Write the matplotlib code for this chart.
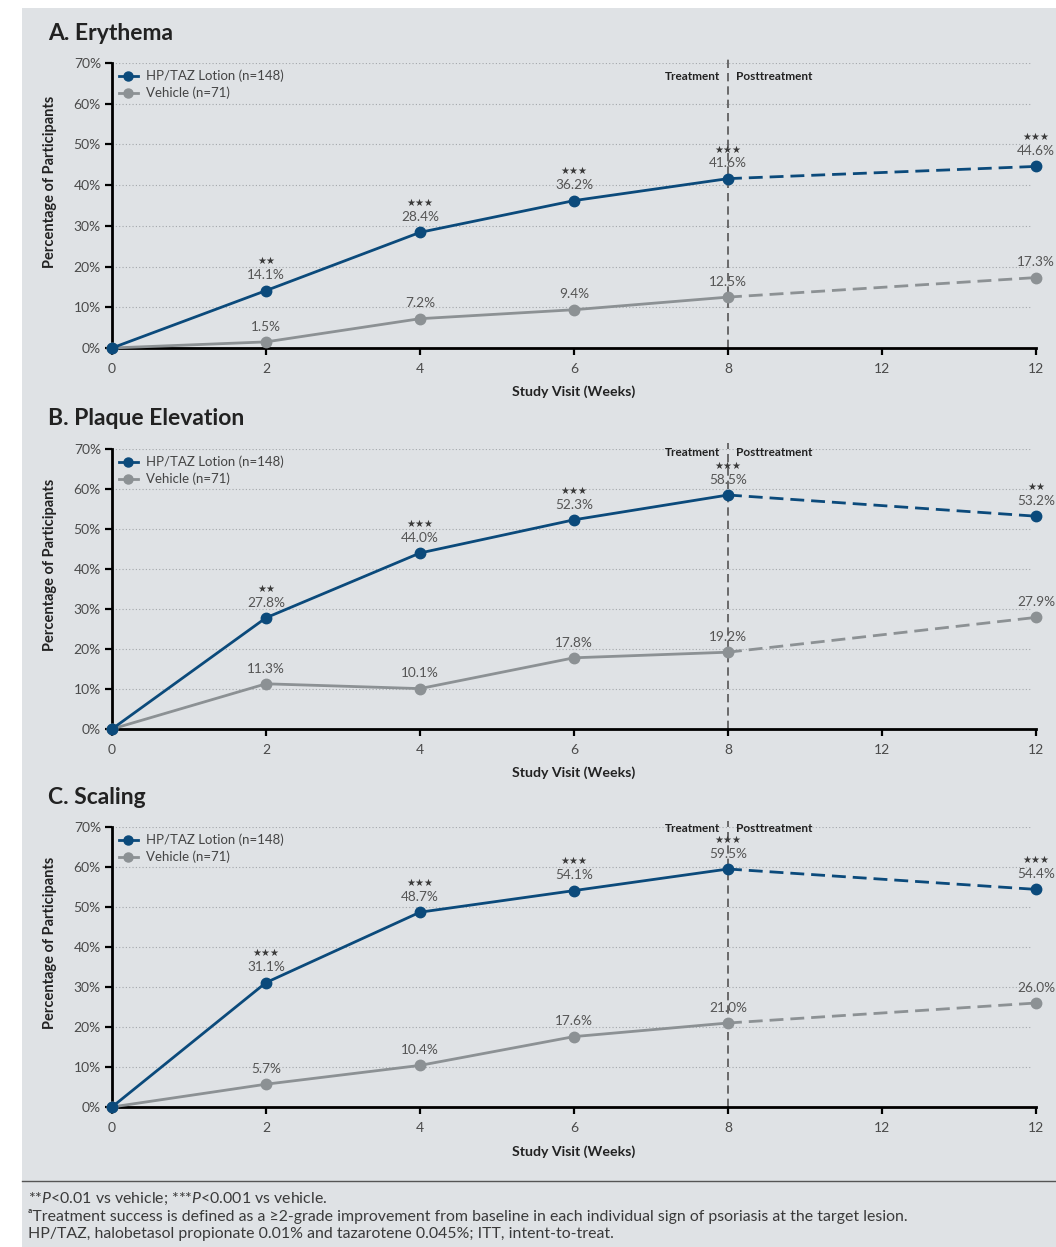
import matplotlib
matplotlib.use("Agg")
import matplotlib.pyplot as plt
from matplotlib.patches import Rectangle
from matplotlib.lines import Line2D

plt.rcParams['font.family'] = ['Lato', 'DejaVu Sans']

# ---------------- data ----------------
tick_labels = ["0", "2", "4", "6", "8", "12", "12"]
visit_pos = [0, 1, 2, 3, 4, 6]  # category index on the x axis for each visit

panel_titles = ["A. Erythema", "B. Plaque Elevation", "C. Scaling"]

ery_hp = [0, 14.1, 28.4, 36.2, 41.6, 44.6]
ery_veh = [0, 1.5, 7.2, 9.4, 12.5, 17.3]
ery_sig = ["", "**", "***", "***", "***", "***"]

plaque_hp = [0, 27.8, 44.0, 52.3, 58.5, 53.2]
plaque_veh = [0, 11.3, 10.1, 17.8, 19.2, 27.9]
plaque_sig = ["", "**", "***", "***", "***", "**"]

scal_hp = [0, 31.1, 48.7, 54.1, 59.5, 54.4]
scal_veh = [0, 5.7, 10.4, 17.6, 21.0, 26.0]
scal_sig = ["", "***", "***", "***", "***", "***"]

series_hp = [ery_hp, plaque_hp, scal_hp]
series_veh = [ery_veh, plaque_veh, scal_veh]
series_sig = [ery_sig, plaque_sig, scal_sig]

legend_hp = "HP/TAZ Lotion (n=148)"
legend_veh = "Vehicle (n=71)"

footer_lines = [
    r"**$\it{P}$<0.01 vs vehicle; ***$\it{P}$<0.001 vs vehicle.",
    "\u1d43Treatment success is defined as a \u22652-grade improvement from baseline in each individual sign of psoriasis at the target lesion.",
    "HP/TAZ, halobetasol propionate 0.01% and tazarotene 0.045%; ITT, intent-to-treat.",
]

# ---------------- style ----------------
NAVY = "#0b4a7b"
GRAY = "#8c9194"
BG = "#dfe2e5"
TXT = "#4a4a4a"

W, H = 1056, 1247
fig = plt.figure(figsize=(W / 100, H / 100), dpi=100)
fig.patch.set_facecolor("white")
fig.patches.append(Rectangle((22 / W, 0), 1 - 22 / W, 1 - 8 / H, transform=fig.transFigure,
                             facecolor=BG, edgecolor="none", zorder=-10))

def fy(py):
    return 1 - py / H

# pixel layout: (axis top y, axis bottom y, title y, xlabel y)
layout = [(63, 348, 34, 392), (449, 729, 419, 773), (827, 1107, 797, 1152)]
treat_y = [66.8, 69.1, 69.5]
left_px, right_px = 112, 1036

plt.rcParams['mathtext.fontset'] = 'custom'
plt.rcParams['mathtext.it'] = 'Lato:italic'
plt.rcParams['mathtext.rm'] = 'Lato'

for i in range(3):
    top, bot, ty, xly = layout[i]
    ax = fig.add_axes([left_px / W, fy(bot), (right_px - left_px) / W, (bot - top) / H])
    ax.set_facecolor("none")
    ax.set_xlim(0, 6)
    ax.set_ylim(0, 70)
    ax.set_yticks(range(0, 71, 10))
    ax.set_yticklabels([f"{v}%" for v in range(0, 71, 10)])
    ax.set_xticks(range(len(tick_labels)))
    ax.set_xticklabels(tick_labels)
    for s in ["top", "right"]:
        ax.spines[s].set_visible(False)
    for s in ["left", "bottom"]:
        ax.spines[s].set_linewidth(2)
        ax.spines[s].set_color("black")
    ax.tick_params(axis="both", length=5, width=1.6, color="black", labelsize=10,
                   labelcolor=TXT, direction="out")
    ax.tick_params(axis="x", pad=6)
    ax.tick_params(axis="y", pad=3)
    for v in range(10, 71, 10):
        ax.plot([0, 5.97], [v, v], ls=(0, (1, 2)), color="#a3a7ab", lw=0.8, zorder=0)

    # treatment divider
    ax.axvline(4, ymin=0, ymax=1.02, ls=(0, (5, 3)), color="#555555", lw=1.2, zorder=1, clip_on=False)
    ax.annotate("Treatment", (4, treat_y[i]), xytext=(-6, 0), textcoords="offset points",
                ha="right", va="center", fontsize=8.5, fontweight="bold", color="#222222")
    ax.annotate("Posttreatment", (4, treat_y[i]), xytext=(6, 0), textcoords="offset points",
                ha="left", va="center", fontsize=8.5, fontweight="bold", color="#222222")

    hp = series_hp[i]
    veh = series_veh[i]
    sig = series_sig[i]
    for vals, col, lab, z in [(veh, GRAY, legend_veh, 3), (hp, NAVY, legend_hp, 4)]:
        ax.plot(visit_pos[:5], vals[:5], color=col, lw=2.0, zorder=z, clip_on=False)
        ax.plot(visit_pos[4:], vals[4:], color=col, lw=2.0, ls=(0, (5, 2.5)), zorder=z, clip_on=False)
        ax.plot(visit_pos, vals, ls="none", marker="o", ms=7.5, color=col, zorder=z + 0.5, clip_on=False)
        for k in range(1, len(vals)):
            ax.annotate(f"{vals[k]:.1f}%", (visit_pos[k], vals[k]), xytext=(0, 11),
                        textcoords="offset points", ha="center", va="center",
                        fontsize=9.8, color="#555555", zorder=6)
    for k in range(1, len(hp)):
        if sig[k]:
            ax.annotate(sig[k].replace("*", "\u2605"), (visit_pos[k], hp[k]), xytext=(0, 21),
                        textcoords="offset points", ha="center", va="center",
                        fontsize=7.2, color="#3a3a3a", zorder=6, family="DejaVu Sans")

    handles = [Line2D([], [], color=NAVY, lw=2, marker="o", ms=6.5),
               Line2D([], [], color=GRAY, lw=2, marker="o", ms=6.5)]
    ax.legend(handles, [legend_hp, legend_veh], loc="upper left", bbox_to_anchor=(0.0, 1.0),
              frameon=False, fontsize=9.5, handlelength=1.5, handletextpad=0.55,
              labelspacing=0.35, borderaxespad=0.2, borderpad=0.3, labelcolor="#444444")

    fig.text(48 / W, fy(ty), panel_titles[i], fontsize=16.5, fontweight="bold",
             color="#222222", ha="left", va="center")
    fig.text(574 / W, fy(xly), "Study Visit (Weeks)", fontsize=10.2, fontweight="bold",
             color="#222222", ha="center", va="center")
    fig.text(50 / W, fy((top + bot) / 2 - 24), "Percentage of Participants", fontsize=10.5,
             fontweight="bold", color="#222222", rotation=90, ha="center", va="center")

fig.add_artist(Line2D([22 / W, 1], [fy(1181), fy(1181)], transform=fig.transFigure,
                      color="#555555", lw=1))
for j, line in enumerate(footer_lines):
    fig.text(28 / W, fy(1199 + 17.5 * j), line, fontsize=11.4, color="#3a3a3a",
             ha="left", va="center")

fig.savefig("out.png", dpi=100, facecolor=fig.get_facecolor())
